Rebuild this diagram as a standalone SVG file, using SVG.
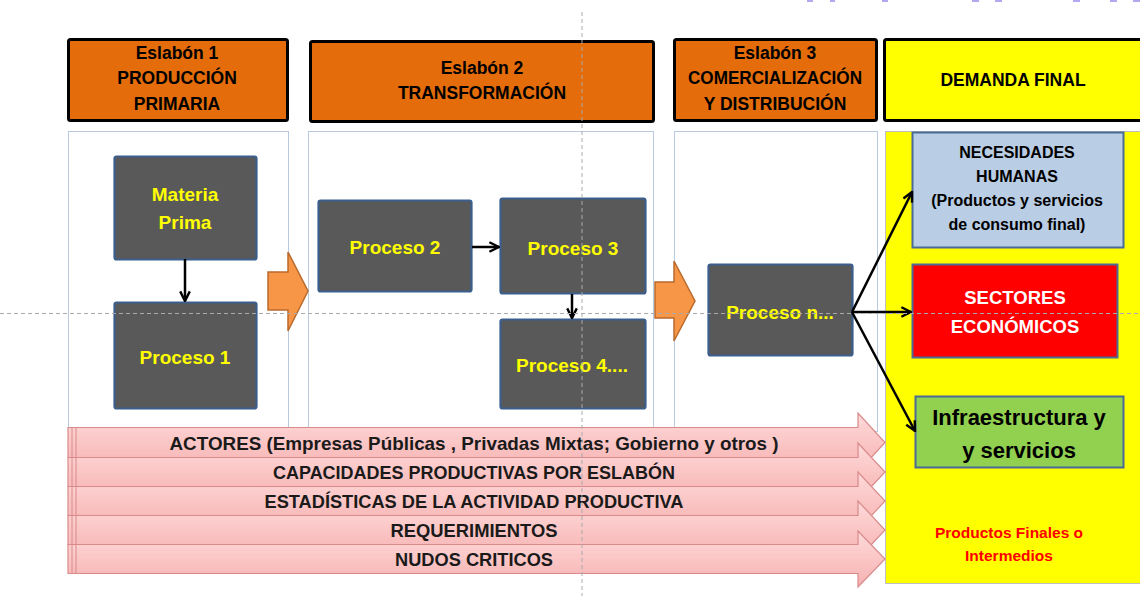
<svg xmlns="http://www.w3.org/2000/svg" width="1140" height="596" viewBox="0 0 1140 596">
<style>
text{font-family:"Liberation Sans",Arial,sans-serif;font-weight:bold;text-anchor:middle;dominant-baseline:central}
.hdr{fill:#E46C0A;stroke:#000;stroke-width:3}
.hdrt{font-size:17.5px;fill:#000}
.col{fill:#fff;stroke:#B9C9DF;stroke-width:1}
.node{fill:#595959;stroke:#3B5E8C;stroke-width:2.2}
.nt{font-size:19px;fill:#FFFF00}
.blk{fill:#F79646;stroke:#B96A2C;stroke-width:1.5}
.pink{fill:url(#pg);stroke:#D98A8A;stroke-width:1.2}
.pt{font-size:19px;fill:#1a1a1a}
.conn{stroke:#000;stroke-width:2.5;fill:none;marker-end:url(#ah)}
.guide{stroke:#AAAAAA;stroke-width:1;stroke-dasharray:4 3;fill:none}
</style>
<defs>
<linearGradient id="pg" x1="0" y1="0" x2="0" y2="1">
<stop offset="0" stop-color="#FFDADA"/>
<stop offset="1" stop-color="#F6B1B1"/>
</linearGradient>
<marker id="ah" viewBox="0 0 10 10" refX="9" refY="5" markerWidth="12" markerHeight="12" markerUnits="userSpaceOnUse" orient="auto">
<path d="M1,1 L9,5 L1,9" fill="none" stroke="#000" stroke-width="2"/>
</marker>
</defs>
<rect width="1140" height="596" fill="#fff"/>
<g id="top-marks" fill="#B3A8F0">
<rect x="807" y="0" width="6" height="2"/><rect x="830" y="0" width="5" height="2"/><rect x="882" y="0" width="6" height="2"/><rect x="972" y="0" width="7" height="2"/><rect x="995" y="0" width="7" height="2"/><rect x="1073" y="0" width="7" height="2"/><rect x="1110" y="0" width="7" height="2"/><rect x="1133" y="0" width="7" height="2"/>
</g>
<g id="columns">
<rect class="col" x="68.5" y="131.5" width="220" height="300"/>
<rect class="col" x="308.5" y="131.5" width="345" height="300"/>
<rect class="col" x="674.5" y="131.5" width="203" height="300"/>
<rect x="885.5" y="131.5" width="258" height="452" fill="#FFFF00" stroke="#BFBFBF" stroke-width="1"/>
</g>
<g id="header-1"><rect class="hdr" x="68.5" y="39.5" width="219" height="81" rx="2"/>
<text class="hdrt" x="177" y="53">Eslabón 1</text><text class="hdrt" x="177" y="78">PRODUCCIÓN</text><text class="hdrt" x="177" y="104">PRIMARIA</text></g>
<g id="header-2"><rect class="hdr" x="310.5" y="41.5" width="343" height="80" rx="2"/>
<text class="hdrt" x="482" y="68">Eslabón 2</text><text class="hdrt" x="482" y="93">TRANSFORMACIÓN</text></g>
<g id="header-3"><rect class="hdr" x="674.5" y="39.5" width="202" height="81" rx="2"/>
<text class="hdrt" x="775" y="53">Eslabón 3</text><text class="hdrt" x="775" y="78" textLength="174" lengthAdjust="spacingAndGlyphs">COMERCIALIZACIÓN</text><text class="hdrt" x="775" y="104">Y DISTRIBUCIÓN</text></g>
<g id="header-4"><rect x="884.5" y="39.5" width="260" height="81" rx="2" fill="#FFFF00" stroke="#000" stroke-width="3"/>
<text class="hdrt" x="1013" y="80">DEMANDA FINAL</text></g>
<g id="block-arrows">
<path class="blk" d="M268,272 L288,272 L288,252 L308,291 L288,331 L288,310 L268,310 Z"/>
<path class="blk" d="M655,282 L674,282 L674,261 L695,301 L674,341 L674,318 L655,318 Z"/>
</g>
<g id="materia-prima"><rect class="node" x="114.5" y="156.5" width="142" height="103" rx="2"/>
<text class="nt" x="185" y="194">Materia</text><text class="nt" x="185" y="222">Prima</text></g>
<g id="proceso-1"><rect class="node" x="114.5" y="302.5" width="142" height="106" rx="2"/>
<text class="nt" x="185" y="357">Proceso 1</text></g>
<g id="proceso-2"><rect class="node" x="318.5" y="200.5" width="153" height="91" rx="2"/>
<text class="nt" x="395" y="247">Proceso 2</text></g>
<g id="proceso-3"><rect class="node" x="500.5" y="198.5" width="145" height="95" rx="2"/>
<text class="nt" x="573" y="248">Proceso 3</text></g>
<g id="proceso-4"><rect class="node" x="500.5" y="319.5" width="145" height="89" rx="2"/>
<text class="nt" x="572" y="365">Proceso 4....</text></g>
<g id="proceso-n"><rect class="node" x="708.5" y="264.5" width="144" height="91" rx="2"/>
<text class="nt" x="780" y="312">Proceso n...</text></g>
<g id="necesidades"><rect x="912.5" y="132.5" width="211" height="115" fill="#B9CDE5" stroke="#4A6B96" stroke-width="2"/>
<text x="1017" y="152" font-size="16" fill="#000">NECESIDADES</text><text x="1017" y="176" font-size="16" fill="#000">HUMANAS</text><text x="1017" y="200" font-size="16" fill="#000">(Productos y servicios</text><text x="1017" y="224" font-size="16" fill="#000">de consumo final)</text></g>
<g id="sectores"><rect x="912.5" y="264.5" width="205" height="93" fill="#FF0000" stroke="#4A6B96" stroke-width="2"/>
<text x="1015" y="297" font-size="18.5" fill="#fff">SECTORES</text><text x="1015" y="326" font-size="18.5" fill="#fff">ECONÓMICOS</text></g>
<g id="infraestructura"><rect x="915.5" y="396.5" width="208" height="71" fill="#92D050" stroke="#4A6B96" stroke-width="2"/>
<text x="1019" y="417" font-size="22" fill="#000">Infraestructura y</text><text x="1019" y="450" font-size="22" fill="#000">y servicios</text></g>
<g id="productos-label"><text x="1009" y="532" font-size="15.5" fill="#FF0000">Productos Finales o</text><text x="1009" y="555" font-size="15.5" fill="#FF0000">Intermedios</text></g>
<g id="connectors">
<line class="conn" x1="185" y1="259" x2="185" y2="301"/>
<line class="conn" x1="472" y1="247" x2="499" y2="247"/>
<line class="conn" x1="572" y1="294" x2="572" y2="318"/>
<line class="conn" x1="852" y1="312" x2="912" y2="192"/>
<line class="conn" x1="852" y1="312" x2="911" y2="312"/>
<line class="conn" x1="852" y1="312" x2="915" y2="431"/>
</g>
<g id="pink-arrows">
<g id="row-actores"><path class="pink" d="M68,427.5 L858,427.5 L858,413 L885,442.5 L858,472 L858,457.5 L68,457.5 Z"/>
<text class="pt" x="474" y="443" textLength="609" lengthAdjust="spacingAndGlyphs">ACTORES  (Empresas Públicas , Privadas Mixtas; Gobierno y otros )</text></g>
<g id="row-capacidades"><path class="pink" d="M68,457.5 L858,457.5 L858,443 L885,472 L858,501 L858,486.5 L68,486.5 Z"/>
<text class="pt" x="474" y="472" textLength="402" lengthAdjust="spacingAndGlyphs">CAPACIDADES PRODUCTIVAS POR ESLABÓN</text></g>
<g id="row-estadisticas"><path class="pink" d="M68,486.5 L858,486.5 L858,472 L885,501 L858,530 L858,515.5 L68,515.5 Z"/>
<text class="pt" x="474" y="501" textLength="419" lengthAdjust="spacingAndGlyphs">ESTADÍSTICAS DE LA ACTIVIDAD PRODUCTIVA</text></g>
<g id="row-requerimientos"><path class="pink" d="M68,515.5 L858,515.5 L858,501 L885,530 L858,559 L858,544.5 L68,544.5 Z"/>
<text class="pt" x="474" y="530" textLength="167" lengthAdjust="spacingAndGlyphs">REQUERIMIENTOS</text></g>
<g id="row-nudos"><path class="pink" d="M68,544.5 L858,544.5 L858,531 L885,559 L858,587 L858,573.5 L68,573.5 Z"/>
<text class="pt" x="474" y="559" textLength="158" lengthAdjust="spacingAndGlyphs">NUDOS CRITICOS</text></g>
<path d="M72,428 V573 M76,428 V573" stroke="#D98A8A" stroke-width="1" fill="none"/>
</g>
<g id="guides">
<line class="guide" x1="582" y1="12" x2="582" y2="596"/>
<line class="guide" x1="0" y1="313.5" x2="1140" y2="313.5"/>
</g>
</svg>
